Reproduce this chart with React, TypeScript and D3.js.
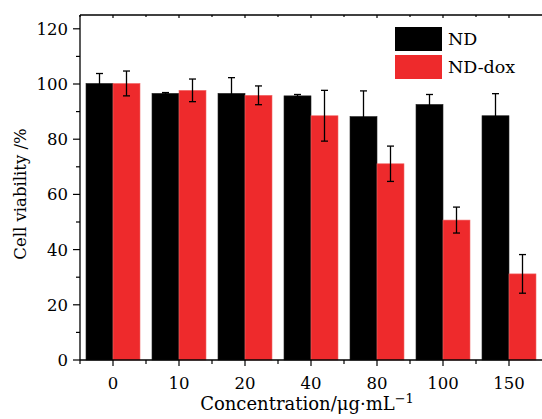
import * as d3 from 'd3';
import { useEffect, useRef } from 'react';

const categories = ['0', '10', '20', '40', '80', '100', '150'];
const ndValues = [100.2, 96.6, 96.6, 95.7, 88.2, 92.6, 88.5];
const ndErrors = [3.6, 0.3, 5.7, 0.5, 9.3, 3.6, 8.0];
const doxValues = [100.2, 97.7, 95.9, 88.5, 71.1, 50.7, 31.2];
const doxErrors = [4.5, 4.1, 3.4, 9.2, 6.4, 4.7, 7.0];
const yTicks = [0, 20, 40, 60, 80, 100, 120];
const seriesNames = ['ND', 'ND-dox'];

const App = () => {
    const svgRef = useRef<SVGSVGElement>(null);

    useEffect(() => {
        const width = 542;
        const height = 419;
        const left = 80;
        const right = 542;
        const top = 15;
        const bottom = 360;
        const font = 'DejaVu Serif';
        const red = '#ee2a2c';

        const svg = d3.select(svgRef.current);
        svg.selectAll('*').remove();
        svg.attr('width', width).attr('height', height);

        const x = d3.scaleBand().domain(categories).range([left, right]).paddingInner(0).paddingOuter(0);
        const y = d3.scaleLinear().domain([0, 125]).range([bottom, top]);
        const barW = 27;

        const groups = [
            { name: seriesNames[0], values: ndValues, errors: ndErrors, color: '#000', stroke: '#222', offset: -barW },
            { name: seriesNames[1], values: doxValues, errors: doxErrors, color: red, stroke: '#f26a6a', offset: 0 },
        ];

        // bars
        groups.forEach((g) => {
            svg.append('g')
                .selectAll('rect')
                .data(categories)
                .enter()
                .append('rect')
                .attr('x', (c) => x(c)! + x.bandwidth() / 2 + g.offset)
                .attr('y', (c, i) => y(g.values[i]))
                .attr('width', barW)
                .attr('height', (c, i) => bottom - y(g.values[i]))
                .attr('fill', g.color)
                .attr('stroke', g.stroke)
                .attr('stroke-width', 0.6);
        });

        // error bars
        groups.forEach((g) => {
            const eg = svg.append('g').attr('stroke', '#000').attr('stroke-width', 1.3);
            categories.forEach((c, i) => {
                const cx = x(c)! + x.bandwidth() / 2 + g.offset + barW / 2;
                const hi = y(g.values[i] + g.errors[i]);
                const lo = y(g.values[i] - g.errors[i]);
                eg.append('line').attr('x1', cx).attr('x2', cx).attr('y1', hi).attr('y2', lo);
                eg.append('line').attr('x1', cx - 3.5).attr('x2', cx + 3.5).attr('y1', hi).attr('y2', hi);
                eg.append('line').attr('x1', cx - 3.5).attr('x2', cx + 3.5).attr('y1', lo).attr('y2', lo);
            });
        });

        // frame
        const frame = svg.append('g').attr('stroke', '#000').attr('stroke-width', 1.3);
        frame.append('line').attr('x1', left).attr('x2', right).attr('y1', bottom).attr('y2', bottom);
        frame.append('line').attr('x1', left).attr('x2', left).attr('y1', top).attr('y2', bottom);
        frame.append('line').attr('x1', left).attr('x2', right).attr('y1', top).attr('y2', top);

        // x ticks
        const xt = svg.append('g').attr('stroke', '#000').attr('stroke-width', 1.2);
        categories.forEach((c) => {
            const cx = x(c)! + x.bandwidth() / 2;
            xt.append('line').attr('x1', cx).attr('x2', cx).attr('y1', bottom).attr('y2', bottom + 6);
            xt.append('line').attr('x1', cx).attr('x2', cx).attr('y1', top).attr('y2', top + 3);
            const bx = x(c)!;
            xt.append('line').attr('x1', bx).attr('x2', bx).attr('y1', bottom).attr('y2', bottom + 4);
            xt.append('line').attr('x1', bx).attr('x2', bx).attr('y1', top).attr('y2', top + 2);
        });
        svg.append('g')
            .selectAll('text')
            .data(categories)
            .enter()
            .append('text')
            .attr('x', (c) => x(c)! + x.bandwidth() / 2)
            .attr('y', 389)
            .attr('text-anchor', 'middle')
            .style('font-family', font)
            .style('font-size', '16.5px')
            .text((c) => c);

        // y ticks
        const yt = svg.append('g').attr('stroke', '#000').attr('stroke-width', 1.2);
        d3.range(0, 121, 10).forEach((v) => {
            const major = v % 20 === 0;
            yt.append('line')
                .attr('x1', left - (major ? 7 : 4))
                .attr('x2', left)
                .attr('y1', y(v))
                .attr('y2', y(v));
        });
        svg.append('g')
            .selectAll('text')
            .data(yTicks)
            .enter()
            .append('text')
            .attr('x', 68)
            .attr('y', (v) => y(v) + 6)
            .attr('text-anchor', 'end')
            .style('font-family', font)
            .style('font-size', '16.5px')
            .text((v) => v);

        // axis titles
        const xl = svg.append('text')
            .attr('x', 307)
            .attr('y', 410)
            .attr('text-anchor', 'middle')
            .style('font-family', font)
            .style('font-size', '18px');
        xl.append('tspan').text('Concentration/μg·mL');
        xl.append('tspan').attr('dy', -7).style('font-size', '13px').text('−1');

        svg.append('text')
            .attr('transform', 'translate(26, 194) rotate(-90)')
            .attr('text-anchor', 'middle')
            .style('font-family', font)
            .style('font-size', '16.5px')
            .text('Cell viability /%');

        // legend
        const legend = svg.append('g').attr('transform', 'translate(395, 27)');
        groups.forEach((g, i) => {
            const row = legend.append('g').attr('transform', `translate(0, ${i * 28})`);
            row.append('rect').attr('width', 47).attr('height', 24).attr('fill', g.color);
            row.append('text')
                .attr('x', 53)
                .attr('y', 18)
                .style('font-family', font)
                .style('font-size', '17.5px')
                .text(g.name);
        });
    }, []);

    return <svg ref={svgRef} style={{ position: 'absolute', left: 0, top: 0 }} />;
};

export default App;
